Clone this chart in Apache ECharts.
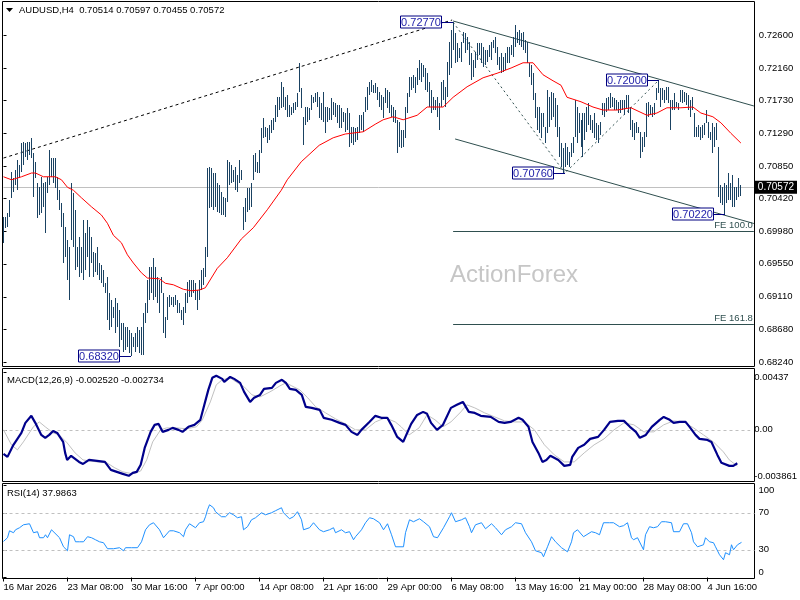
<!DOCTYPE html>
<html>
<head>
<meta charset="utf-8">
<title>AUDUSD H4</title>
<script src="https://cdn.jsdelivr.net/npm/echarts@6.0.0/dist/echarts.min.js"></script>
<style>
  html, body { margin: 0; padding: 0; background: #fff; }
  #chart { width: 800px; height: 600px; }
</style>
</head>
<body>
<div id="chart"></div>
<script>
var FONT = 'Liberation Sans, Arial, sans-serif';

// H4 bars, high / low in pips (x 0.0001), one per bar from 16 Mar 2026 00:00
var barHigh = [
  7017,7017,7023,7040,7077,7069,7080,7093,7087,7116,
  7117,7116,7117,7117,7123,7103,7091,7063,7057,7071,
  7063,7064,7071,7107,7096,7096,7096,7071,7053,7036,
  7023,7004,6987,6977,7063,7049,7027,6977,6991,6977,
  7013,6996,7013,7004,6991,6971,6969,6977,6956,6953,
  6947,6929,6937,6916,6907,6897,6909,6903,6893,6876,
  6876,6871,6871,6867,6863,6857,6863,6871,6867,6871,
  6889,6903,6933,6951,6951,6963,6951,6937,6933,6937,
  6916,6884,6911,6913,6911,6911,6913,6907,6903,6893,
  6897,6916,6931,6933,6933,6933,6929,6920,6933,6947,
  6949,6977,7083,7084,7083,7076,7076,7063,7060,7051,
  7044,7043,7093,7091,7087,7080,7084,7073,7093,7080,
  7031,7043,7056,7056,7063,7100,7103,7091,7107,7136,
  7149,7137,7136,7140,7147,7149,7167,7177,7177,7197,
  7191,7177,7180,7167,7164,7169,7171,7183,7223,7189,
  7151,7164,7164,7163,7180,7177,7183,7184,7177,7169,
  7184,7164,7164,7163,7176,7171,7169,7167,7167,7163,
  7157,7156,7163,7156,7137,7137,7136,7137,7153,7153,
  7157,7177,7191,7197,7200,7193,7196,7191,7184,7180,
  7177,7189,7187,7184,7167,7164,7160,7147,7144,7133,
  7133,7164,7183,7204,7204,7207,7204,7216,7227,7223,
  7220,7216,7209,7197,7187,7177,7173,7177,7169,7197,
  7200,7191,7224,7251,7267,7277,7263,7249,7243,7251,
  7264,7263,7257,7251,7236,7227,7237,7249,7249,7249,
  7244,7240,7240,7247,7251,7253,7257,7244,7231,7236,
  7231,7236,7244,7244,7247,7257,7273,7264,7267,7263,
  7264,7253,7251,7223,7220,7209,7183,7164,7164,7156,
  7156,7137,7187,7177,7184,7183,7176,7167,7137,7116,
  7109,7116,7111,7104,7116,7124,7173,7164,7156,7147,
  7156,7156,7164,7169,7153,7147,7156,7143,7140,7144,
  7169,7169,7176,7177,7183,7177,7176,7173,7171,7173,
  7173,7173,7180,7180,7164,7147,7143,7144,7137,7131,
  7124,7131,7169,7171,7167,7164,7169,7189,7200,7189,
  7189,7187,7191,7191,7173,7173,7183,7171,7169,7187,
  7187,7184,7183,7180,7173,7177,7156,7137,7140,7137,
  7140,7143,7160,7144,7131,7143,7137,7143,7111,7060,
  7057,7063,7060,7076,7063,7073,7057,7057,7069,7060
];
var barLow = [
  6983,7003,7004,7017,7043,7051,7060,7053,7069,7077,
  7087,7097,7093,7100,7096,7044,7069,7016,7020,7023,
  7031,6996,7049,7060,7071,7063,7056,7040,7027,7004,
  6956,6964,6933,6907,6987,6977,6947,6951,6937,6943,
  6933,6947,6964,6937,6956,6937,6944,6940,6933,6929,
  6924,6916,6880,6867,6871,6883,6863,6871,6844,6853,
  6837,6840,6844,6836,6832,6844,6837,6844,6836,6833,
  6834,6876,6889,6907,6916,6907,6911,6903,6889,6916,
  6863,6856,6880,6897,6900,6897,6900,6889,6889,6880,
  6873,6889,6903,6911,6911,6916,6907,6893,6907,6920,
  6927,6937,6964,7029,7031,7027,7031,7024,7023,7020,
  7020,7017,7037,7060,7063,7064,7053,7051,7063,7067,
  7000,7011,7024,7027,7031,7067,7077,7076,7076,7103,
  7123,7124,7116,7120,7129,7133,7144,7151,7160,7163,
  7164,7160,7151,7151,7153,7156,7160,7164,7184,7163,
  7113,7140,7144,7147,7160,7169,7171,7164,7149,7147,
  7144,7129,7144,7147,7147,7153,7151,7143,7136,7136,
  7144,7131,7133,7111,7116,7113,7117,7120,7129,7133,
  7131,7157,7160,7180,7184,7183,7183,7173,7164,7160,
  7149,7169,7163,7156,7151,7144,7143,7103,7111,7109,
  7111,7123,7156,7177,7187,7189,7183,7193,7200,7197,
  7204,7187,7184,7164,7156,7160,7160,7151,7133,7164,
  7173,7164,7177,7207,7216,7240,7223,7224,7229,7224,
  7249,7236,7240,7220,7200,7204,7216,7227,7233,7223,
  7217,7220,7224,7231,7227,7243,7236,7220,7213,7209,
  7211,7213,7223,7223,7233,7231,7244,7249,7247,7244,
  7240,7236,7223,7204,7193,7173,7149,7133,7129,7123,
  7137,7116,7129,7137,7147,7151,7137,7124,7097,7084,
  7076,7084,7087,7084,7097,7103,7124,7116,7129,7111,
  7097,7120,7131,7140,7133,7129,7123,7120,7116,7127,
  7153,7151,7157,7160,7163,7164,7160,7160,7156,7156,
  7160,7153,7163,7156,7133,7124,7120,7129,7129,7096,
  7104,7111,7124,7151,7153,7151,7153,7173,7183,7164,
  7173,7169,7173,7169,7133,7160,7160,7164,7160,7171,
  7169,7171,7167,7160,7151,7160,7124,7124,7124,7120,
  7123,7127,7143,7123,7120,7103,7111,7120,7044,7036,
  7033,7022,7036,7040,7040,7031,7031,7040,7044,7046
];
var lastBar = [0.70514, 0.70597, 0.70455, 0.70572]; // O H L C

// red moving average, [bar, pips]
var maLine = [[0,7071],[4,7067],[9,7071],[14,7076],[16,7076],[20,7071],[26,7071],[29,7067],[32,7057],[35,7053],
  [39,7043],[44,7031],[49,7020],[52,7009],[55,6993],[59,6983],[62,6967],[65,6956],[69,6943],[72,6936],
  [78,6935],[81,6929],[85,6927],[90,6921],[94,6919],[98,6920],[101,6923],[107,6949],[112,6963],[119,6988],
  [125,7003],[132,7027],[139,7053],[142,7067],[149,7091],[158,7113],[165,7123],[171,7128],[180,7131],[186,7141],
  [190,7147],[195,7151],[200,7147],[207,7153],[212,7164],[220,7164],[225,7177],[232,7191],[240,7203],[247,7209],
  [254,7216],[260,7223],[265,7223],[270,7207],[275,7199],[279,7193],[282,7177],[289,7171],[295,7164],[300,7160],
  [307,7160],[314,7163],[322,7153],[327,7156],[332,7163],[339,7163],[345,7164],[349,7156],[355,7151],[359,7143],
  [364,7129],[369,7116]];

// MACD(12,26,9), [bar, value x 0.00001]
var macdMain = [[0,-181],[2,-204],[5,-113],[9,-23],[11,53],[14,106],[16,53],[19,-38],[21,-60],[23,-38],
  [25,-8],[27,-23],[30,-91],[31,-174],[32,-227],[34,-196],[35,-211],[38,-242],[40,-257],[43,-227],
  [47,-234],[51,-242],[54,-302],[57,-317],[60,-332],[63,-347],[65,-325],[67,-317],[69,-264],[71,-136],
  [74,-15],[76,38],[78,45],[80,-15],[83,0],[85,15],[88,0],[90,-15],[93,23],[96,38],
  [99,76],[101,189],[103,302],[105,393],[107,408],[110,385],[111,362],[114,400],[116,385],[119,355],
  [121,287],[124,211],[126,242],[129,264],[131,310],[135,317],[137,355],[140,378],[142,355],[144,310],
  [147,302],[150,264],[152,174],[155,166],[159,151],[161,91],[165,76],[169,53],[172,38],[175,-15],
  [178,-38],[180,0],[184,60],[187,106],[190,91],[193,91],[195,38],[198,-53],[201,-91],[205,45],
  [208,113],[211,136],[213,121],[215,53],[218,0],[221,38],[225,166],[228,189],[231,211],[234,136],
  [237,128],[240,106],[245,98],[249,60],[252,53],[255,60],[259,91],[261,76],[264,23],[266,-91],
  [269,-174],[271,-242],[273,-227],[275,-196],[279,-227],[282,-272],[285,-264],[286,-204],[289,-136],[292,-113],
  [295,-68],[299,-53],[302,0],[305,60],[309,68],[312,68],[315,23],[318,-15],[320,-60],[323,-38],
  [326,23],[330,76],[332,98],[335,76],[337,53],[340,60],[343,60],[345,23],[348,-38],[350,-68],
  [354,-76],[356,-91],[359,-189],[361,-249],[365,-272],[367,-272],[369,-252]];
var macdSignal = [[0,0],[4,-113],[7,-151],[10,-91],[15,23],[18,60],[21,23],[25,-23],[28,-38],[32,-98],
  [36,-174],[40,-227],[47,-242],[52,-249],[56,-287],[60,-317],[65,-332],[69,-310],[72,-227],[75,-91],
  [79,0],[82,15],[87,15],[92,8],[97,23],[100,76],[104,211],[107,340],[110,378],[114,393],
  [117,362],[121,325],[125,264],[129,249],[134,287],[139,332],[142,355],[145,332],[149,302],[153,242],
  [157,174],[162,128],[167,83],[172,45],[177,0],[182,0],[187,60],[192,91],[197,60],[200,23],
  [204,-38],[209,15],[213,113],[217,76],[221,23],[225,60],[230,136],[233,189],[237,166],[242,128],
  [247,98],[252,68],[257,60],[262,60],[267,0],[272,-113],[277,-189],[282,-242],[287,-242],[292,-174],
  [297,-113],[302,-68],[307,0],[312,53],[317,38],[322,-15],[327,-15],[332,38],[337,68],[342,60],
  [347,15],[352,-38],[357,-91],[362,-166],[365,-227],[369,-273]];
var macdLast = ['-0.002520', '-0.002734'];

// RSI(14), [bar, value]
var rsiLine = [[0,39],[2,43],[3,50.5],[5,48.4],[6,51.6],[8,53.8],[10,57],[11,54.9],[13,58.1],[14,58.1],
  [15,48.4],[17,49.5],[18,43],[20,43],[21,46.2],[22,43],[24,51.6],[25,49.5],[28,43],[30,33.2],
  [32,28.9],[33,46.2],[35,44.1],[36,38.6],[38,38.6],[40,38.6],[42,44.1],[44,43],[46,40.8],[48,38.6],
  [50,37.6],[52,31.1],[55,31.1],[56,33.2],[58,32.2],[60,28.9],[61,32.2],[64,32.2],[65,33.2],[67,32.2],
  [69,38.6],[71,51.6],[73,57],[75,59.2],[76,59.2],[78,51.6],[80,43],[81,44.1],[83,50.5],[85,50.5],
  [88,48.4],[90,44.1],[91,51.6],[93,58.1],[96,53.8],[97,52.7],[98,59.2],[100,60.3],[101,65.7],[102,73.2],
  [103,78.6],[105,75.4],[106,71.1],[109,65.7],[111,65.7],[113,70],[115,67.8],[117,64.6],[119,65.7],[120,51.6],
  [122,54.9],[124,62.4],[126,64.6],[129,70],[131,67.8],[134,70],[136,72.2],[139,75.4],[140,70],[143,63.5],
  [145,65.7],[147,71.1],[149,62.4],[150,51.6],[153,53.8],[155,59.2],[158,51.6],[160,49.5],[163,51.6],[165,53.8],
  [166,48.4],[169,51.6],[171,48.4],[173,49.5],[175,40.8],[176,44.1],[179,51.6],[181,59.2],[183,64.6],[185,63.5],
  [188,59.2],[190,51.6],[192,58.1],[194,46.2],[196,33.2],[200,33.2],[201,48.4],[203,62.4],[205,60.3],[208,63.5],
  [210,60.3],[213,54.9],[215,44.1],[217,43],[220,53.8],[221,54.9],[223,65.7],[224,70],[226,60.3],[229,62.4],
  [231,64.6],[233,54.9],[234,48.4],[236,57],[239,59.2],[241,52.7],[244,58.1],[246,53.8],[249,46.2],[251,51.6],
  [254,54.9],[256,59.2],[259,58.1],[261,48.4],[264,38.6],[266,28.9],[269,26.8],[270,22.4],[272,33.2],[274,44.1],
  [276,38.6],[279,32.2],[282,27.8],[284,38.6],[285,48.4],[287,51.6],[290,44.1],[291,46.2],[294,49.5],[296,48.4],
  [298,46.2],[300,59.2],[303,59.2],[305,59.2],[308,54.9],[310,56],[312,59.2],[314,43],[315,40.8],[317,43],
  [320,30],[321,46.2],[323,54.9],[325,53.8],[327,54.9],[329,60.3],[331,60.3],[334,59.2],[335,49.5],[338,49.5],
  [340,58.1],[342,58.1],[344,48.4],[345,38.6],[347,33.2],[350,35.4],[351,43],[353,38.6],[355,37.6],[356,33.2],
  [358,24.6],[360,19.2],[361,26.8],[363,24.6],[364,35.4],[365,30],[367,35.4],[369,37.99]];
var rsiLast = '37.9863';

// axes
var priceTicks = [0.72600, 0.72160, 0.71730, 0.71290, 0.70850, 0.70420, 0.69980, 0.69550, 0.69110, 0.68680, 0.68240];
var macdTicks = [0.00437, 0, -0.003861];
var macdTickLabels = ['0.00437', '0.00', '-0.003861'];
var rsiTicks = [100, 70, 30, 0];
var rsiLevels = [70, 30];
var dateTicks = [0, 32, 64, 96, 128, 160, 192, 224, 256, 288, 320, 352];
var dateLabels = ['16 Mar 2026', '23 Mar 08:00', '30 Mar 16:00', '7 Apr 00:00', '14 Apr 08:00', '21 Apr 16:00',
  '29 Apr 00:00', '6 May 08:00', '13 May 16:00', '21 May 00:00', '28 May 08:00', '4 Jun 16:00'];

// drawn objects, [bar, price]
var longTrend = [[0, 0.7096], [224.5, 0.7280]];
var channelTop = [[225, 0.72787], [375.5, 0.71654]];
var channelBottom = [[226, 0.71214], [375.5, 0.70087]];
var zigzag = [[225, 0.72770], [281, 0.70760], [328, 0.72000]];
var pivots = [[225, 0.72770], [281, 0.70760], [328, 0.72000], [361, 0.70220], [64, 0.68320]];
var feNames = ['FE 100.0', 'FE 161.8'];
var feValues = [0.69990, 0.68748];
var feStart = 225;

var xMax = 375.5;
var axisFont = {color: '#000', fontSize: 9.5, fontFamily: FONT};

function hline(idx, value, color, dash, from) {
  return {
    type: 'custom', xAxisIndex: idx, yAxisIndex: idx, silent: true, z: 1,
    data: [[from, value]],
    renderItem: function (params, api) {
      var a = api.coord([api.value(0), api.value(1)]);
      var b = api.coord([xMax, api.value(1)]);
      var y = Math.round(a[1]) + 0.5;
      return {type: 'line', shape: {x1: a[0], y1: y, x2: b[0], y2: y},
        style: {stroke: color, lineWidth: 1, lineDash: dash}};
    }
  };
}

function lineSeries(idx, data, color, width, dash, z) {
  return {
    type: 'line', xAxisIndex: idx, yAxisIndex: idx, data: data, silent: true,
    symbol: 'none', showSymbol: false, z: z || 2,
    lineStyle: {color: color, width: width, type: dash || 'solid'}
  };
}

var bars = barHigh.map(function (h, i) { return [i, barLow[i] / 1e4, h / 1e4]; });

var option = {
  animation: false,
  backgroundColor: '#fff',
  grid: [
    {left: 3.5, width: 751, top: 3, height: 363},
    {left: 3.5, width: 751, top: 372, height: 109},
    {left: 3.5, width: 751, top: 485, height: 92.5}
  ],
  xAxis: [
    {type: 'value', gridIndex: 0, min: 0, max: xMax, show: false},
    {type: 'value', gridIndex: 1, min: 0, max: xMax, show: false},
    {type: 'value', gridIndex: 2, min: 0, max: xMax, offset: 1,
      axisLine: {show: false}, splitLine: {show: false},
      axisTick: {show: true, length: 4, customValues: dateTicks, lineStyle: {color: '#000'}},
      axisLabel: Object.assign({customValues: dateTicks, align: 'left', margin: 4,
        formatter: function (v) { return dateLabels[dateTicks.indexOf(v)] || ''; }}, axisFont)}
  ],
  yAxis: [
    {type: 'value', gridIndex: 0, position: 'right', min: 0.68187, max: 0.73027,
      axisLine: {show: false}, splitLine: {show: false},
      axisTick: {show: true, length: 3, customValues: priceTicks, lineStyle: {color: '#000'}},
      axisLabel: Object.assign({customValues: priceTicks, margin: 5,
        formatter: function (v) { return v.toFixed(5); }}, axisFont)},
    {type: 'value', gridIndex: 1, position: 'right', min: -0.003861, max: 0.00437,
      axisLine: {show: false}, splitLine: {show: false},
      axisTick: {show: true, length: 3, customValues: macdTicks, lineStyle: {color: '#000'}},
      axisLabel: Object.assign({customValues: macdTicks, margin: 4, hideOverlap: false,
        verticalAlignMaxLabel: 'bottom', verticalAlignMinLabel: 'top',
        formatter: function (v) {
          var k = 0;
          macdTicks.forEach(function (t, j) { if (Math.abs(t - v) < Math.abs(macdTicks[k] - v)) k = j; });
          return macdTickLabels[k];
        }}, axisFont)},
    {type: 'value', gridIndex: 2, position: 'right', min: 0, max: 100,
      axisLine: {show: false}, splitLine: {show: false},
      axisTick: {show: true, length: 3, customValues: rsiTicks, lineStyle: {color: '#000'}},
      axisLabel: Object.assign({customValues: rsiTicks, margin: 4, hideOverlap: false,
        verticalAlignMaxLabel: 'bottom', verticalAlignMinLabel: 'top'}, axisFont)},
    {type: 'value', gridIndex: 0, position: 'right', min: 0.68187, max: 0.73027,
      axisLine: {show: false}, splitLine: {show: false}, axisTick: {show: false},
      axisLabel: {customValues: [lastBar[3]], margin: 1, color: '#fff', backgroundColor: '#000',
        padding: [2, 3, 1, 3], fontSize: 10, fontFamily: FONT,
        formatter: function (v) { return v.toFixed(5); }}}
  ],
  graphic: [
    {type: 'rect', shape: {x: 2.5, y: 1.5, width: 752, height: 365}, style: {fill: 'none', stroke: '#000', lineWidth: 1}, z: 0},
    {type: 'rect', shape: {x: 2.5, y: 368.5, width: 752, height: 113}, style: {fill: 'none', stroke: '#000', lineWidth: 1}, z: 0},
    {type: 'rect', shape: {x: 2.5, y: 483.5, width: 752, height: 95}, style: {fill: 'none', stroke: '#000', lineWidth: 1}, z: 0},
    {type: 'polygon', shape: {points: [[6, 8], [13, 8], [9.5, 12]]}, style: {fill: '#000'}},
    {type: 'text', left: 19, top: 5, style: {text: 'AUDUSD,H4  ' + lastBar.map(function (v) { return v.toFixed(5); }).join(' '),
      fill: '#000', fontSize: 9.5, fontFamily: FONT}},
    {type: 'text', left: 7, top: 375, style: {text: 'MACD(12,26,9) ' + macdLast.join(' '), fill: '#000', fontSize: 9.5, fontFamily: FONT}},
    {type: 'text', left: 7, top: 488, style: {text: 'RSI(14) ' + rsiLast, fill: '#000', fontSize: 9.5, fontFamily: FONT}},
    {type: 'text', left: 450, top: 263, z: 0, style: {text: 'ActionForex', fill: '#c6c6c6', fontSize: 24, fontFamily: FONT}}
  ],
  series: [
    hline(0, lastBar[3], '#c0c0c0', null, 0),
    {
      type: 'custom', xAxisIndex: 0, yAxisIndex: 0, silent: true, z: 3,
      data: bars,
      encode: {x: 0, y: [1, 2]},
      renderItem: function (params, api) {
        var lo = api.coord([api.value(0), api.value(1)]);
        var hi = api.coord([api.value(0), api.value(2)]);
        var x = Math.floor(lo[0]) + 0.5;
        return {type: 'line', shape: {x1: x, y1: Math.round(lo[1]), x2: x, y2: Math.round(hi[1])},
          style: {stroke: '#1a4262', lineWidth: 1}};
      }
    },
    lineSeries(0, maLine.map(function (p) { return [p[0], p[1] / 1e4]; }), '#ff0000', 1, 'solid', 4),
    lineSeries(0, longTrend, '#000', 1, [3, 3], 2),
    lineSeries(0, channelTop, '#2f4f4f', 1, 'solid', 2),
    lineSeries(0, channelBottom, '#2f4f4f', 1, 'solid', 2),
    lineSeries(0, zigzag, '#2f4f4f', 1, [2, 3], 2),
    {
      type: 'custom', xAxisIndex: 0, yAxisIndex: 0, silent: true, z: 2,
      data: feValues.map(function (v) { return [feStart, v]; }),
      renderItem: function (params, api) {
        var a = api.coord([api.value(0), api.value(1)]);
        var b = api.coord([xMax, api.value(1)]);
        var y = Math.round(a[1]) + 0.5;
        return {type: 'group', children: [
          {type: 'line', shape: {x1: a[0], y1: y, x2: b[0], y2: y}, style: {stroke: '#2f4f4f', lineWidth: 1}},
          {type: 'text', style: {text: feNames[params.dataIndex], x: b[0] - 1, y: y - 1, align: 'right', verticalAlign: 'bottom',
            fill: '#2f4f4f', fontSize: 9.5, fontFamily: FONT}}
        ]};
      }
    },
    {
      type: 'custom', xAxisIndex: 0, yAxisIndex: 0, silent: true, z: 6,
      data: pivots,
      renderItem: function (params, api) {
        var p = api.coord([api.value(0), api.value(1)]);
        var px = Math.round(p[0]), py = Math.round(p[1]) + 0.5;
        return {type: 'group', children: [
          {type: 'line', shape: {x1: px - 11, y1: py, x2: px, y2: py}, style: {stroke: '#000080', lineWidth: 1}},
          {type: 'rect', shape: {x: px - 52.5, y: py - 6.5, width: 41, height: 12}, style: {fill: '#fff', stroke: '#000080', lineWidth: 1}},
          {type: 'text', style: {text: api.value(1).toFixed(5), x: px - 32, y: py + 0.5, align: 'center', verticalAlign: 'middle',
            fill: '#1c1ca8', fontSize: 11, fontFamily: FONT}}
        ]};
      }
    },
    hline(1, 0, '#c0c0c0', [3, 3], 0),
    lineSeries(1, macdSignal.map(function (p) { return [p[0], p[1] / 1e5]; }), '#c0c0c0', 1, 'solid', 2),
    lineSeries(1, macdMain.map(function (p) { return [p[0], p[1] / 1e5]; }), '#00008b', 2.2, 'solid', 3),
    hline(2, rsiLevels[0], '#c0c0c0', [3, 3], 0),
    hline(2, rsiLevels[1], '#c0c0c0', [3, 3], 0),
    lineSeries(2, rsiLine, '#1e90ff', 1, 'solid', 3)
  ]
};

var chart = echarts.init(document.getElementById('chart'));
chart.setOption(option);
</script>
</body>
</html>
